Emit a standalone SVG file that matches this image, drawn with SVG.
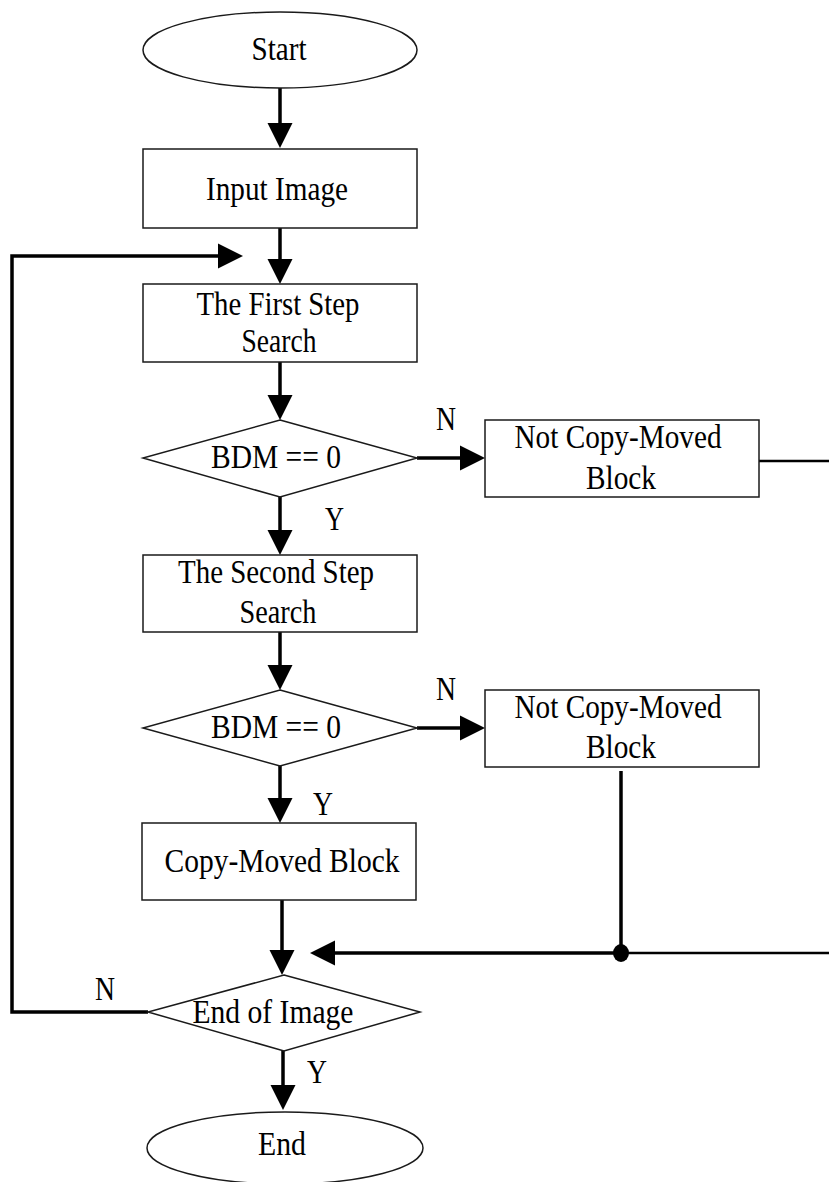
<svg xmlns="http://www.w3.org/2000/svg" width="829" height="1182" viewBox="0 0 829 1182">
<style>
.node{fill:#fff;stroke:#1a1a1a;stroke-width:1.5}
.t{font-family:"Liberation Serif","Times New Roman",serif;font-size:33px;fill:#000;text-anchor:middle}
.lbl{font-family:"Liberation Serif","Times New Roman",serif;font-size:33px;fill:#000}
.c{fill:none;stroke:#000;stroke-width:3.5}
.cthin{fill:none;stroke:#000;stroke-width:2.5}
</style>
<defs>
<marker id="arr" markerUnits="userSpaceOnUse" markerWidth="26" markerHeight="26" refX="0" refY="12.5" orient="auto" overflow="visible">
<path d="M0,0 L25,12.5 L0,25 Z" fill="#000"/>
</marker>
</defs>
<rect width="829" height="1182" fill="#fff"/>
<g id="connectors">
<path class="c" d="M280,88 V123" marker-end="url(#arr)"/>
<path class="c" d="M280,228 V259" marker-end="url(#arr)"/>
<path class="c" d="M148,1012 H12 V256 H218" marker-end="url(#arr)"/>
<path class="c" d="M280,362 V395" marker-end="url(#arr)"/>
<path class="c" d="M417,458 H460" marker-end="url(#arr)"/>
<path class="c" d="M280,497 V530" marker-end="url(#arr)"/>
<path class="c" d="M280,632 V665" marker-end="url(#arr)"/>
<path class="c" d="M417,728 H460" marker-end="url(#arr)"/>
<path class="c" d="M280,766 V798" marker-end="url(#arr)"/>
<path class="c" d="M282,900 V950" marker-end="url(#arr)"/>
<path class="c" d="M283,1051 V1085" marker-end="url(#arr)"/>
<path class="cthin" d="M759,461 H829"/>
<path class="c" d="M621,771 V953"/>
<path class="cthin" d="M829,953 H621"/>
<path class="c" d="M621,953 H335" marker-end="url(#arr)"/>
<ellipse cx="621" cy="953" rx="8" ry="9" fill="#000"/>
<text class="lbl" x="436" y="430" textLength="20" lengthAdjust="spacingAndGlyphs">N</text>
<text class="lbl" x="325" y="530" textLength="19" lengthAdjust="spacingAndGlyphs">Y</text>
<text class="lbl" x="436" y="700" textLength="20" lengthAdjust="spacingAndGlyphs">N</text>
<text class="lbl" x="313" y="815" textLength="20" lengthAdjust="spacingAndGlyphs">Y</text>
<text class="lbl" x="95" y="1000" textLength="20" lengthAdjust="spacingAndGlyphs">N</text>
<text class="lbl" x="307" y="1083" textLength="20" lengthAdjust="spacingAndGlyphs">Y</text>
</g>
<g id="start">
<ellipse class="node" cx="280" cy="50" rx="137" ry="38"/>
<text class="t" x="279" y="60" textLength="55" lengthAdjust="spacingAndGlyphs">Start</text>
</g>
<g id="input">
<rect class="node" x="143" y="149" width="274" height="79"/>
<text class="t" x="277" y="200" textLength="142" lengthAdjust="spacingAndGlyphs">Input Image</text>
</g>
<g id="first">
<rect class="node" x="143" y="284" width="274" height="78"/>
<text class="t" x="278" y="315" textLength="163" lengthAdjust="spacingAndGlyphs">The First Step</text>
<text class="t" x="279" y="352" textLength="75" lengthAdjust="spacingAndGlyphs">Search</text>
</g>
<g id="bdm1">
<polygon class="node" points="280,420 417,458 280,497 143,458"/>
<text class="t" x="276" y="468" textLength="130" lengthAdjust="spacingAndGlyphs">BDM == 0</text>
</g>
<g id="notcopy1">
<rect class="node" x="485" y="420" width="274" height="77"/>
<text class="t" x="618" y="448" textLength="207" lengthAdjust="spacingAndGlyphs">Not Copy-Moved</text>
<text class="t" x="621" y="489" textLength="70" lengthAdjust="spacingAndGlyphs">Block</text>
</g>
<g id="second">
<rect class="node" x="143" y="555" width="274" height="77"/>
<text class="t" x="276" y="583" textLength="196" lengthAdjust="spacingAndGlyphs">The Second Step</text>
<text class="t" x="278" y="623" textLength="77" lengthAdjust="spacingAndGlyphs">Search</text>
</g>
<g id="bdm2">
<polygon class="node" points="280,690 417,728 280,766 143,728"/>
<text class="t" x="276" y="738" textLength="130" lengthAdjust="spacingAndGlyphs">BDM == 0</text>
</g>
<g id="notcopy2">
<rect class="node" x="485" y="690" width="274" height="77"/>
<text class="t" x="618" y="718" textLength="207" lengthAdjust="spacingAndGlyphs">Not Copy-Moved</text>
<text class="t" x="621" y="758" textLength="70" lengthAdjust="spacingAndGlyphs">Block</text>
</g>
<g id="copymoved">
<rect class="node" x="142" y="823" width="274" height="77"/>
<text class="t" x="282" y="872" textLength="235" lengthAdjust="spacingAndGlyphs">Copy-Moved Block</text>
</g>
<g id="endofimage">
<polygon class="node" points="284,975 420,1012 284,1051 148,1012"/>
<text class="t" x="273" y="1023" textLength="161" lengthAdjust="spacingAndGlyphs">End of Image</text>
</g>
<g id="end">
<ellipse class="node" cx="285" cy="1148" rx="138" ry="36"/>
<text class="t" x="282" y="1155" textLength="48" lengthAdjust="spacingAndGlyphs">End</text>
</g>
</svg>
